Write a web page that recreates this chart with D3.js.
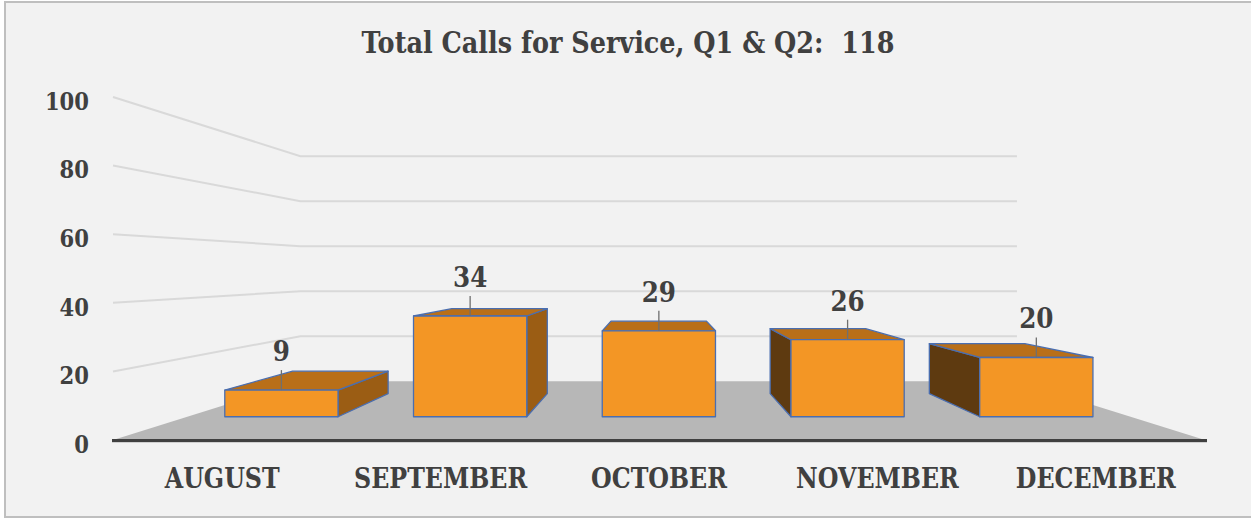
<!DOCTYPE html>
<html>
<head>
<meta charset="utf-8">
<script src="https://cdn.jsdelivr.net/npm/d3@7"></script>
<style>
  body { margin: 0; background: #ffffff; }
  svg text { font-family: "DejaVu Serif", serif; font-weight: bold; fill: #404040; }
</style>
</head>
<body>
<div class="chart"></div>
<script>
// chart data
var title = "Total Calls for Service, Q1 & Q2:  118";
var months = ["AUGUST", "SEPTEMBER", "OCTOBER", "NOVEMBER", "DECEMBER"];
var calls = [9, 34, 29, 26, 20];
var yTicks = [0, 20, 40, 60, 80, 100];

var width = 1251, height = 520;
var squeeze = 0.88;          // horizontal condense of the serif text
var vp = [658, 269];         // vanishing point of the 3d view

var svg = d3.select(".chart").append("svg")
    .attr("width", width)
    .attr("height", height);

// chart area background + border
svg.append("rect")
    .attr("x", 5).attr("y", 2)
    .attr("width", 1260).attr("height", 515)
    .style("fill", "#f2f2f2")
    .style("stroke", "#bfbfbf")
    .style("stroke-width", 2);

// scales for the front plane
var x = d3.scaleBand().domain(months).range([113, 1205])
    .paddingInner(0.4).paddingOuter(0.2);
var y = d3.scaleLinear().domain([0, 100]).range([440, 97]);
// depth: 0 = front edge of floor, 1 = back wall
var z = d3.scaleLinear().domain([0, 1]).range([1, 1.524]);

function proj(px, py, d) {
  var s = 1 / z(d);
  return [vp[0] + s * (px - vp[0]), vp[1] + s * (py - vp[1])];
}
var poly = function(pts) { return "M" + pts.map(function(p) { return p.join(","); }).join("L") + "Z"; };

var x0 = x.range()[0], x1 = x.range()[1];

// gridlines on the side and back walls
svg.append("g").selectAll("path")
    .data(yTicks.filter(function(d) { return d > 0; }))
  .enter().append("path")
    .attr("d", function(d) {
      return d3.line()([proj(x0, y(d), 0), proj(x0, y(d), 1), proj(x1, y(d), 1)]);
    })
    .style("fill", "none")
    .style("stroke", "#d9d9d9")
    .style("stroke-width", 2);

// floor
svg.append("path")
    .attr("d", poly([proj(x0, y(0), 0), proj(x1, y(0), 0), proj(x1, y(0), 1), proj(x0, y(0), 1)]))
    .style("fill", "#b7b7b7");

// bars
var dFront = 0.3, dBack = 0.71;
var bars = svg.append("g").selectAll("g")
    .data(months.map(function(m, i) { return {month: m, value: calls[i]}; }))
  .enter().append("g");

bars.each(function(d) {
  var g = d3.select(this);
  var l = x(d.month), r = l + x.bandwidth();
  var b = y(0), t = y(d.value);
  var edge = {stroke: "#4a6eb0", "stroke-width": 1.3, "stroke-linejoin": "round"};
  var faces = [];
  if (r < vp[0]) {
    faces.push({pts: [proj(r, b, dFront), proj(r, b, dBack), proj(r, t, dBack), proj(r, t, dFront)], fill: "#9b5d14"});
  } else if (l > vp[0]) {
    faces.push({pts: [proj(l, b, dFront), proj(l, b, dBack), proj(l, t, dBack), proj(l, t, dFront)], fill: "#5e3a10"});
  }
  faces.push({pts: [proj(l, t, dFront), proj(r, t, dFront), proj(r, t, dBack), proj(l, t, dBack)], fill: "#b96f18"});
  faces.push({pts: [proj(l, b, dFront), proj(r, b, dFront), proj(r, t, dFront), proj(l, t, dFront)], fill: "#f39625"});
  faces.forEach(function(f) {
    var p = g.append("path").attr("d", poly(f.pts)).style("fill", f.fill);
    for (var k in edge) p.style(k, edge[k]);
  });
});

// axis line along the front of the floor
svg.append("line")
    .attr("x1", x0 - 1).attr("x2", x1 + 2)
    .attr("y1", y(0) + 2).attr("y2", y(0) + 2)
    .style("stroke", "#d0d0d0")
    .style("stroke-width", 2);
svg.append("line")
    .attr("x1", x0 - 1).attr("x2", x1 + 2)
    .attr("y1", y(0) + 0.5).attr("y2", y(0) + 0.5)
    .style("stroke", "#404040")
    .style("stroke-width", 3);

// y axis labels
var yAxis = svg.append("g")
    .attr("transform", "translate(" + x0 + ",0)")
    .call(d3.axisLeft(y).tickValues(yTicks).tickSize(0).tickPadding(24));
yAxis.select(".domain").remove();
yAxis.selectAll("text")
    .style("font-size", "24px")
    .attr("x", -24 / squeeze)
    .attr("dy", "0.51em")
    .attr("transform", "scale(" + squeeze + ",1)");

// category labels
var xAxis = svg.append("g")
    .attr("transform", "translate(0," + y(0) + ")")
    .call(d3.axisBottom(x).tickSize(0).tickPadding(29));
xAxis.select(".domain").remove();
xAxis.selectAll("text")
    .style("font-size", "27px")
    .attr("transform", "scale(" + squeeze + ",1)");

// data labels with leader lines
bars.each(function(d) {
  var g = d3.select(this);
  var cx = x(d.month) + x.bandwidth() / 2;
  var top = proj(cx, y(d.value), dFront);
  g.append("line")
      .attr("x1", top[0]).attr("x2", top[0])
      .attr("y1", top[1] - 20).attr("y2", top[1])
      .style("stroke", "#6f6f6f")
      .style("stroke-width", 1.3);
  g.append("text")
      .attr("transform", "translate(" + top[0] + "," + (top[1] - 29) + ") scale(" + squeeze + ",1)")
      .attr("text-anchor", "middle")
      .style("font-size", "28px")
      .text(d.value);
});

// title
svg.append("text")
    .attr("transform", "translate(628,53) scale(" + squeeze + ",1)")
    .attr("text-anchor", "middle")
    .style("font-size", "29px")
    .style("white-space", "pre")
    .text(title);
</script>
</body>
</html>
